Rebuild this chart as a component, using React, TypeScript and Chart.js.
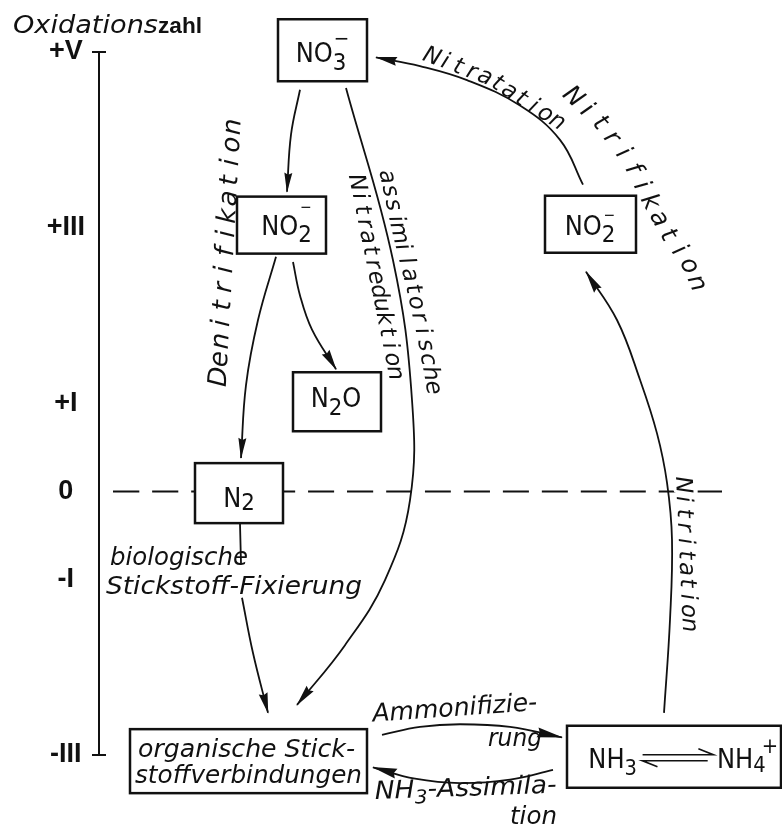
import { useEffect, useRef } from "react";
import { Chart, registerables } from "chart.js";

Chart.register(...registerables);

// ---------------- Axis (oxidation number) ----------------
const oxidationTicks = [5, 3, 1, 0, -1, -3];
const oxidationTickLabels = ["+V", "+III", "+I", "0", "-I", "-III"];
const axisTitleItalic = "Oxidations";
const axisTitleBold = "zahl";

// ---------------- Nitrogen species (boxes) ----------------
// horizontal position (arbitrary diagram units 0..680) and oxidation number
const speciesKeys = ["NO3", "NO2den", "N2O", "N2", "NO2nit", "org", "NH3"];
const speciesX = [223.5, 182.5, 238, 140, 491.5, 149.5, 575];
const speciesOx = [5.02, 3.03, 1.02, -0.02, 3.04, -3.07, -3.02];

// ---------------- Process paths [x, oxidation] ----------------
const zeroLine = [[14, 0], [623, 0]];
const pathNitrateToNitrite = [[201, 4.57], [192, 4.06], [188, 3.41]];
const pathNitriteToN2O = [[194, 2.61], [201, 2.23], [213, 1.84], [237, 1.39]];
const pathNitriteToN2 = [[177, 2.67], [159, 1.95], [147, 1.21], [142, 0.38]];
const pathN2Fixation = [[141, -0.37], [142, -0.82]];
const pathFixationToOrganic = [[143, -1.21], [154, -1.84], [169, -2.52]];
const pathAssimNitrateReduction = [[247, 4.59], [294, 2.63], [313, 1.04], [311, -0.1], [286, -1.01], [246, -1.75], [198, -2.43]];
const pathNitritation = [[565, -2.52], [571, -1.46], [573, -0.55], [568, 0.1], [558, 0.66], [541, 1.27], [518, 1.95], [487, 2.5]];
const pathNitratation = [[484, 3.49], [461, 4.0], [421, 4.39], [368, 4.68], [321, 4.84], [277, 4.94]];
const pathAmmonification = [[283, -2.77], [321, -2.68], [361, -2.65], [411, -2.68], [463, -2.8]];
const pathNH3Assimilation = [[454, -3.17], [411, -3.28], [361, -3.32], [316, -3.27], [274, -3.14]];

// ---------------- Process labels ----------------
const curvedLabelTexts = ["Denitrifikation", "Nitratreduktion", "assimilatorische", "Nitritation", "Nitratation", "Nitrifikation"];
const flatLabelTexts = ["biologische", "Stickstoff-Fixierung", "organische Stick-", "stoffverbindungen", "Ammonifizie-", "rung", "-Assimila-", "tion"];

// ---------------- Styles / layout ----------------
const ITALIC = "'DejaVu Sans', 'Noto Sans', sans-serif";
const UPRIGHT = "'DejaVu Sans', 'Noto Sans', sans-serif";
const BOLD = "'Liberation Sans', Arial, sans-serif";
const INK = "#111";

const curvedLabelLayout = [
  { path: [[120, 1.2], [135, 4.25]], size: 26, halo: false },
  { path: [[256, 3.59], [267, 2.97], [279, 2.29], [289, 1.72], [297, 1.27]], size: 23, halo: false },
  { path: [[286, 3.66], [299, 2.97], [314, 2.29], [325, 1.72], [335, 1.1]], size: 23, halo: false },
  { path: [[583, 0.15], [590, -1.6]], size: 23, halo: true },
  { path: [[326, 4.97], [391, 4.69], [464, 4.16]], size: 23, halo: false },
  { path: [[467, 4.56], [501, 4.19], [529, 3.77], [549, 3.32], [569, 2.91], [589, 2.59], [601, 2.27]], size: 25, halo: false },
];

const flatLabelLayout = [
  { x: 11, y: -0.84, width: 138, angle: 0 },
  { x: 7, y: -1.17, width: 256, angle: 0 },
  { x: 39, y: -3.02, width: 217, angle: 0 },
  { x: 36, y: -3.32, width: 227, angle: 0 },
  { x: 274, y: -2.62, width: 165, angle: -4 },
  { x: 389, y: -2.9, width: 54, angle: 0 },
  { x: 276, y: -3.5, width: 182, angle: -2, prefix: true },
  { x: 411, y: -3.79, width: 47, angle: 0 },
];

const boxStyle: any = {
  NO3: { w: 89, h: 62, dx: -1.5, base: 12, runs: [{ t: "NO" }, { t: "3", s: 23, dy: 8 }, { t: "\u2212", s: 20, dy: -17, stack: true, dx: 1 }] },
  NO2den: { w: 89, h: 57, dx: 5, base: 9.5, runs: [{ t: "NO" }, { t: "2", s: 23, dy: 7 }, { t: "\u2212", s: 15, dy: -23, stack: true, dx: 2 }] },
  N2O: { w: 88, h: 59, dx: -1, base: 5.5, runs: [{ t: "N" }, { t: "2", s: 23, dy: 8 }, { t: "O" }] },
  N2: { w: 88, h: 60, dx: 0, base: 14, runs: [{ t: "N" }, { t: "2", s: 23, dy: 3 }] },
  NO2nit: { w: 91, h: 57, dx: -0.5, base: 10.5, runs: [{ t: "NO" }, { t: "2", s: 23, dy: 7 }, { t: "\u2212", s: 15, dy: -15, stack: true, dx: 2 }] },
  org: { w: 237, h: 64, runs: [] },
  NH3: { w: 214, h: 62, dx: 3, base: 11, runs: [{ t: "NH" }, { t: "3", s: 21, dy: 7 }, { eq: true, w: 86 }, { t: "NH" }, { t: "4", s: 21, dy: 4 }, { t: "+", s: 21, dy: -15, stack: true, dx: 9 }] },
};

const arrowDefs = [
  { data: pathNitrateToNitrite, head: [19, 4] },
  { data: pathNitriteToN2O, head: [20, 4.5] },
  { data: pathNitriteToN2, head: [20, 4] },
  { data: pathN2Fixation, head: null },
  { data: pathFixationToOrganic, head: [20, 4.5] },
  { data: pathAssimNitrateReduction, head: [21, 4.5] },
  { data: pathNitritation, head: [22, 4.5] },
  { data: pathNitratation, head: [21, 4.5] },
  { data: pathAmmonification, head: [25, 5] },
  { data: pathNH3Assimilation, head: [24, 5] },
];

const toPts = (arr: number[][]) => arr.map(([x, y]) => ({ x, y }));

function fontOf(size: number, family: string, style = "normal", weight = "normal") {
  return `${style} ${weight} ${size}px ${family}`;
}

function drawHead(ctx: any, x: number, y: number, ang: number, len: number, half: number) {
  ctx.save();
  ctx.translate(x, y);
  ctx.rotate(ang);
  ctx.beginPath();
  ctx.moveTo(1, 0);
  ctx.lineTo(-len, -half);
  ctx.lineTo(-len * 0.9, 0);
  ctx.lineTo(-len, half);
  ctx.closePath();
  ctx.fill();
  ctx.restore();
}

function drawRuns(ctx: any, runs: any[], x: number, y: number, o: any) {
  const base = o.size || 25;
  const weight = o.weight || "normal";
  const xs: number[] = [];
  let total = 0;
  let lastStart = 0;
  for (const r of runs) {
    ctx.font = fontOf(r.s || base, o.family, o.style || "normal", weight);
    if (r.stack) {
      xs.push(lastStart + (r.dx || 0));
      continue;
    }
    const w = r.eq ? r.w : ctx.measureText(r.t).width;
    xs.push(total + (r.dx || 0));
    lastStart = total;
    total += w;
  }
  const sx = o.width ? o.width / total : o.scale || 1;
  ctx.save();
  ctx.translate(x, y);
  if (o.angle) ctx.rotate((o.angle * Math.PI) / 180);
  ctx.scale(sx, 1);
  const x0 = o.align === "center" ? -total / 2 : 0;
  ctx.textAlign = "left";
  ctx.textBaseline = "alphabetic";
  runs.forEach((r, i) => {
    const rx = x0 + xs[i];
    if (r.eq) {
      ctx.lineWidth = 1.7;
      ctx.beginPath();
      ctx.moveTo(rx + 6, -13);
      ctx.lineTo(rx + r.w - 4, -13);
      ctx.lineTo(rx + r.w - 20, -19);
      ctx.moveTo(rx + r.w - 10, -7);
      ctx.lineTo(rx + 6, -7);
      ctx.lineTo(rx + 22, -1);
      ctx.stroke();
      return;
    }
    ctx.font = fontOf(r.s || base, o.family, o.style || "normal", weight);
    ctx.fillText(r.t, rx, r.dy || 0);
  });
  ctx.restore();
}

function drawTextAlong(ctx: any, text: string, pts: number[][], font: string, halo: boolean) {
  const chars = Array.from(text);
  const cum = [0];
  for (let i = 1; i < pts.length; i++) {
    cum.push(cum[i - 1] + Math.hypot(pts[i][0] - pts[i - 1][0], pts[i][1] - pts[i - 1][1]));
  }
  const L = cum[cum.length - 1];
  const at = (d: number) => {
    d = Math.max(0, Math.min(L, d));
    let k = 1;
    while (k < cum.length - 1 && cum[k] < d) k++;
    const seg = cum[k] - cum[k - 1] || 1;
    const t = (d - cum[k - 1]) / seg;
    return [pts[k - 1][0] + (pts[k][0] - pts[k - 1][0]) * t, pts[k - 1][1] + (pts[k][1] - pts[k - 1][1]) * t];
  };
  const step = L / chars.length;
  ctx.font = font;
  ctx.textAlign = "center";
  ctx.textBaseline = "middle";
  chars.forEach((ch, i) => {
    const d = (i + 0.5) * step;
    const [x, y] = at(d);
    const [x1, y1] = at(d - step * 0.7);
    const [x2, y2] = at(d + step * 0.7);
    const ang = Math.atan2(y2 - y1, x2 - x1);
    ctx.save();
    ctx.translate(x, y);
    ctx.rotate(ang);
    if (halo) {
      ctx.save();
      ctx.strokeStyle = "#fff";
      ctx.lineWidth = 6;
      ctx.lineJoin = "round";
      ctx.strokeText(ch, 0, 0);
      ctx.restore();
    }
    ctx.fillText(ch, 0, 0);
    ctx.restore();
  });
}

const diagramPlugin = {
  id: "nitrogenDiagram",
  beforeDraw(chart: any) {
    const ctx = chart.ctx;
    ctx.save();
    ctx.fillStyle = "#fff";
    ctx.fillRect(0, 0, chart.width, chart.height);
    ctx.restore();
  },
  afterDatasetsDraw(chart: any) {
    const ctx = chart.ctx;
    const xs = chart.scales.x;
    const ys = chart.scales.y;
    const px = (v: number) => xs.getPixelForValue(v);
    const py = (v: number) => ys.getPixelForValue(v);
    ctx.save();
    ctx.fillStyle = INK;
    ctx.strokeStyle = INK;

    // arrow heads
    chart.data.datasets.forEach((ds: any, i: number) => {
      if (!ds.arrowHead) return;
      const pts = chart.getDatasetMeta(i).data;
      const a = pts[pts.length - 2];
      const b = pts[pts.length - 1];
      const ang = Math.atan2(b.y - a.y, b.x - a.x);
      drawHead(ctx, b.x, b.y, ang, ds.arrowHead[0], ds.arrowHead[1]);
    });

    // axis end marks (T)
    const axX = ys.right;
    ctx.lineWidth = 2;
    [oxidationTicks[0], oxidationTicks[oxidationTicks.length - 1]].forEach((v) => {
      ctx.beginPath();
      ctx.moveTo(axX - 7, py(v));
      ctx.lineTo(axX + 7, py(v));
      ctx.stroke();
    });

    // axis title
    ctx.fillStyle = INK;
    drawRuns(ctx, [{ t: axisTitleItalic }], chart.chartArea.left - 86, chart.chartArea.top - 19, { family: ITALIC, style: "italic", size: 24, width: 145 });
    drawRuns(ctx, [{ t: axisTitleBold }], chart.chartArea.left + 59, chart.chartArea.top - 19, { family: BOLD, weight: "bold", size: 22, width: 44 });

    // boxes
    speciesKeys.forEach((key, i) => {
      const st = boxStyle[key];
      const cx = px(speciesX[i]);
      const cy = py(speciesOx[i]);
      ctx.fillStyle = "#fff";
      ctx.fillRect(cx - st.w / 2, cy - st.h / 2, st.w, st.h);
      ctx.lineWidth = 2.5;
      ctx.strokeStyle = INK;
      ctx.strokeRect(cx - st.w / 2, cy - st.h / 2, st.w, st.h);
      ctx.fillStyle = INK;
      if (st.runs.length) {
        drawRuns(ctx, st.runs, cx + st.dx, cy + st.base, { family: UPRIGHT, size: 26, scale: 0.93, align: "center" });
      }
    });

    // curved / rotated labels
    ctx.fillStyle = INK;
    curvedLabelTexts.forEach((t, i) => {
      const lay = curvedLabelLayout[i];
      const pts = lay.path.map(([x, y]) => [px(x), py(y)]);
      drawTextAlong(ctx, t, pts, fontOf(lay.size, ITALIC, "italic"), lay.halo);
    });

    // flat labels
    flatLabelTexts.forEach((t, i) => {
      const lay: any = flatLabelLayout[i];
      const runs = lay.prefix ? [{ t: "NH" }, { t: "3", s: 19, dy: 6 }, { t }] : [{ t }];
      drawRuns(ctx, runs, px(lay.x), py(lay.y), { family: ITALIC, style: "italic", size: 25, width: lay.width, angle: lay.angle });
    });

    ctx.restore();
  },
};

export default function App() {
  const ref = useRef<HTMLCanvasElement | null>(null);
  useEffect(() => {
    if (!ref.current) return;
    const datasets: any[] = [
      { data: toPts(zeroLine), borderDash: [26, 13], borderWidth: 2, arrowHead: null },
      ...arrowDefs.map((a) => ({ data: toPts(a.data), borderWidth: 1.8, arrowHead: a.head })),
    ].map((d) => ({
      ...d,
      borderColor: INK,
      pointRadius: 0,
      pointHoverRadius: 0,
      tension: 0.4,
      fill: false,
      clip: false,
      capBezierPoints: false,
    }));
    const chart = new Chart(ref.current, {
      type: "line",
      data: { datasets },
      options: {
        animation: false,
        responsive: false,
        events: [],
        layout: { padding: { top: 52, bottom: 73, left: 0, right: 3 } },
        elements: { line: { capBezierPoints: false } },
        plugins: { legend: { display: false }, tooltip: { enabled: false }, title: { display: false } },
        scales: {
          x: { type: "linear", min: 0, max: 680, display: false },
          y: {
            type: "linear",
            min: -3,
            max: 5,
            afterFit(s: any) {
              s.width = 99;
            },
            afterBuildTicks(s: any) {
              s.ticks = oxidationTicks.map((v) => ({ value: v }));
            },
            grid: { display: false, drawTicks: false },
            border: { display: true, color: INK, width: 2 },
            ticks: {
              autoSkip: false,
              color: INK,
              padding: 14,
              crossAlign: "center",
              font: { family: BOLD, size: 27, weight: "bold" },
              callback: (v: any) => {
                const i = oxidationTicks.indexOf(Number(v));
                return i >= 0 ? oxidationTickLabels[i] : "";
              },
            },
          },
        },
      } as any,
      plugins: [diagramPlugin],
    });
    return () => chart.destroy();
  }, []);
  return (
    <div style={{ position: "absolute", left: 0, top: 0, width: 782, height: 828 }}>
      <canvas ref={ref} width={782} height={828} style={{ display: "block" }} />
    </div>
  );
}
